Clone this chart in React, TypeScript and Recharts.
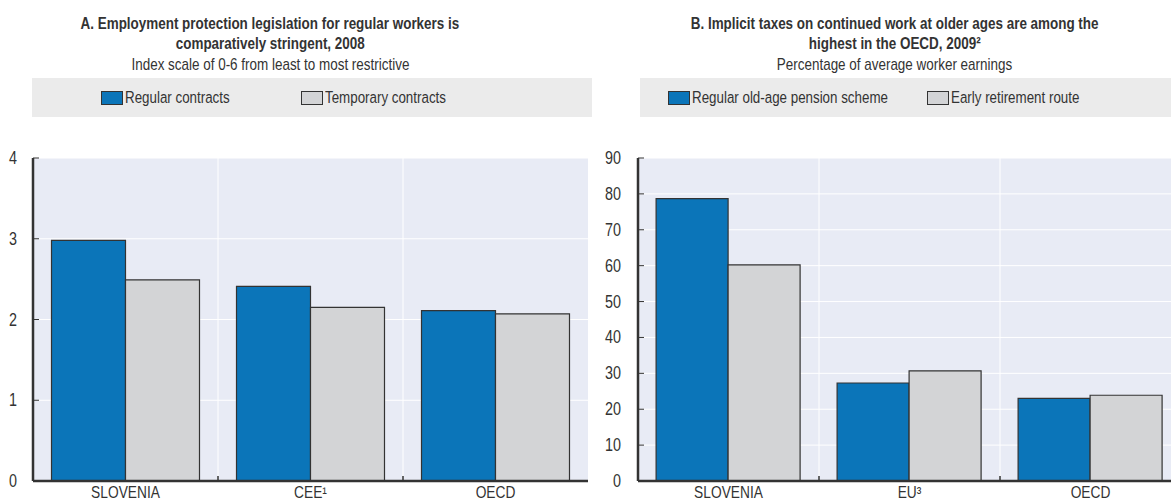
import React from "react";
import { BarChart, Bar, XAxis, YAxis, CartesianGrid, Legend } from "recharts";

// Panel A: employment protection legislation, 2008
const categoriesA = ["SLOVENIA", "CEE¹", "OECD"];
const regularContracts = [2.98, 2.41, 2.11];
const temporaryContracts = [2.49, 2.15, 2.07];
const ticksA = [0, 1, 2, 3, 4];

// Panel B: implicit taxes on continued work, 2009
const categoriesB = ["SLOVENIA", "EU³", "OECD"];
const regularPension = [78.7, 27.3, 23.0];
const earlyRetirement = [60.2, 30.7, 23.9];
const ticksB = [0, 10, 20, 30, 40, 50, 60, 70, 80, 90];

// no narrow face installed, so squeeze Liberation Sans horizontally
const FONT = "'Liberation Sans', Arial, sans-serif";
const NARROW = 0.82;
const BLUE = "#0b75b9";
const GREY = "#d3d4d6";
const PLOT_BG = "#e8ebf5";
const DARK = "#333333";

const dataA = categoriesA.map((name, i) => ({
  name,
  regular: regularContracts[i],
  temporary: temporaryContracts[i],
}));

const dataB = categoriesB.map((name, i) => ({
  name,
  regular: regularPension[i],
  early: earlyRetirement[i],
}));

// x tick: label plus a small inward mark on the boundary to the next category
const XTick = (props: any) => {
  const { x, y, payload, index, visibleTicksCount } = props;
  const axisY = y - 7;
  const half = payload.offset || 0;
  return (
    <g>
      <text
        transform={`translate(${x},${y + 10}) scale(${0.86},1)`}
        textAnchor="middle"
        fill={DARK}
        fontSize={16}
        fontFamily={FONT}
      >
        {payload.value}
      </text>
      {index < visibleTicksCount - 1 && (
        <line x1={x + half} x2={x + half} y1={axisY} y2={axisY - 5} stroke={DARK} strokeWidth={1.5} />
      )}
    </g>
  );
};

const YTick = (props: any) => {
  const { x, y, payload } = props;
  return (
    <text
      transform={`translate(${x},${y}) scale(${NARROW},1)`}
      textAnchor="end"
      dominantBaseline="central"
      fill={DARK}
      fontSize={17.5}
      fontFamily={FONT}
    >
      {payload.value}
    </text>
  );
};

const makeLegend = (pad: number, itemWidth: number) => (props: any) => {
  const { payload } = props;
  return (
    <div
      style={{
        background: "#ebebeb",
        height: 39,
        display: "flex",
        alignItems: "center",
        paddingLeft: pad,
        boxSizing: "border-box",
        fontFamily: FONT,
        fontSize: 16.3,
        color: DARK,
      }}
    >
      {(payload || []).map((e: any, i: number) => (
        <div key={i} style={{ width: itemWidth, display: "flex", alignItems: "center", whiteSpace: "nowrap" }}>
          <span
            style={{
              display: "inline-block",
              width: 22,
              height: 14,
              background: e.color,
              border: `1px solid ${DARK}`,
              boxSizing: "border-box",
              marginRight: 2,
              flex: "none",
            }}
          />
          <span style={{ display: "inline-block", transform: `scaleX(${NARROW})`, transformOrigin: "left center" }}>
            {e.value}
          </span>
        </div>
      ))}
    </div>
  );
};

const boundaries = (props: any) => {
  const { offset } = props;
  return [1, 2].map((i) => offset.left + (offset.width * i) / 3);
};

interface PanelProps {
  data: any[];
  keys: [string, string];
  names: [string, string];
  ticks: number[];
  yWidth: number;
  rightMargin: number;
  tickGap: number;
  legendLeft: number;
  legendWidth: number;
  legendPad: number;
  legendItem: number;
}

const Panel = (p: PanelProps) => (
  <BarChart
    width={600}
    height={503}
    data={p.data}
    margin={{ top: 158, right: p.rightMargin, left: 0, bottom: 0 }}
    barCategoryGap="10%"
    barGap={0}
  >
    <CartesianGrid
      fill={PLOT_BG}
      stroke="#ffffff"
      strokeWidth={1}
      verticalCoordinatesGenerator={boundaries}
    />
    <XAxis
      dataKey="name"
      height={22}
      tickLine={false}
      tickSize={0}
      tickMargin={7}
      axisLine={{ stroke: DARK, strokeWidth: 2.5 }}
      tick={<XTick />}
      interval={0}
    />
    <XAxis xAxisId="top" orientation="top" dataKey="name" height={0} tick={false} tickLine={false} axisLine={{ stroke: DARK, strokeWidth: 2.5 }} />
    <YAxis
      width={p.yWidth}
      domain={[p.ticks[0], p.ticks[p.ticks.length - 1]]}
      ticks={p.ticks}
      interval={0}
      tickSize={-6}
      tickMargin={6 + p.tickGap}
      tickLine={{ stroke: DARK, strokeWidth: 1 }}
      axisLine={{ stroke: DARK, strokeWidth: 2.5 }}
      tick={<YTick />}
    />
    <YAxis yAxisId="right" orientation="right" width={0} tick={false} tickLine={false} axisLine={{ stroke: DARK, strokeWidth: 2.5 }} />
    <Legend
      layout="horizontal"
      verticalAlign="middle"
      align="center"
      itemSorter={(item: any) => p.keys.indexOf(item.dataKey)}
      wrapperStyle={{ top: 78, left: p.legendLeft, width: p.legendWidth, height: 39 }}
      content={makeLegend(p.legendPad, p.legendItem)}
    />
    <Bar dataKey={p.keys[0]} name={p.names[0]} fill={BLUE} stroke={DARK} strokeWidth={1.2} isAnimationActive={false} />
    <Bar dataKey={p.keys[1]} name={p.names[1]} fill={GREY} stroke={DARK} strokeWidth={1.2} isAnimationActive={false} />
  </BarChart>
);

const Title = ({ cx, lines }: { cx: number; lines: { text: string; top: number; bold: boolean }[] }) => (
  <>
    {lines.map((l, i) => (
      <div
        key={i}
        style={{
          position: "absolute",
          left: cx - 300,
          width: 600,
          top: l.top,
          textAlign: "center",
          fontFamily: FONT,
          fontSize: 16.4,
          lineHeight: "18px",
          fontWeight: l.bold ? 700 : 400,
          color: DARK,
          whiteSpace: "nowrap",
        }}
      >
        <span style={{ display: "inline-block", transform: `scaleX(${NARROW})`, transformOrigin: "center" }}>{l.text}</span>
      </div>
    ))}
  </>
);

export default function App() {
  return (
    <div style={{ position: "absolute", left: 0, top: 0, width: 1171, height: 503, overflow: "hidden", background: "#fff" }}>
      <Title
        cx={270}
        lines={[
          { text: "A. Employment protection legislation for regular workers is", top: 14, bold: true },
          { text: "comparatively stringent, 2008", top: 34, bold: true },
          { text: "Index scale of 0-6 from least to most restrictive", top: 55, bold: false },
        ]}
      />
      <Title
        cx={895}
        lines={[
          { text: "B. Implicit taxes on continued work at older ages are among the", top: 14, bold: true },
          { text: "highest in the OECD, 2009²", top: 34, bold: true },
          { text: "Percentage of average worker earnings", top: 55, bold: false },
        ]}
      />
      <div style={{ position: "absolute", left: 0, top: 0 }}>
        <Panel
          data={dataA}
          keys={["regular", "temporary"]}
          names={["Regular contracts", "Temporary contracts"]}
          ticks={ticksA}
          yWidth={33}
          rightMargin={12}
          tickGap={16}
          legendLeft={32}
          legendWidth={560}
          legendPad={69}
          legendItem={200}
        />
      </div>
      <div style={{ position: "absolute", left: 590, top: 0 }}>
        <Panel
          data={dataB}
          keys={["regular", "early"]}
          names={["Regular old-age pension scheme", "Early retirement route"]}
          ticks={ticksB}
          yWidth={48}
          rightMargin={9}
          tickGap={17}
          legendLeft={50}
          legendWidth={560}
          legendPad={28}
          legendItem={259}
        />
      </div>
    </div>
  );
}
